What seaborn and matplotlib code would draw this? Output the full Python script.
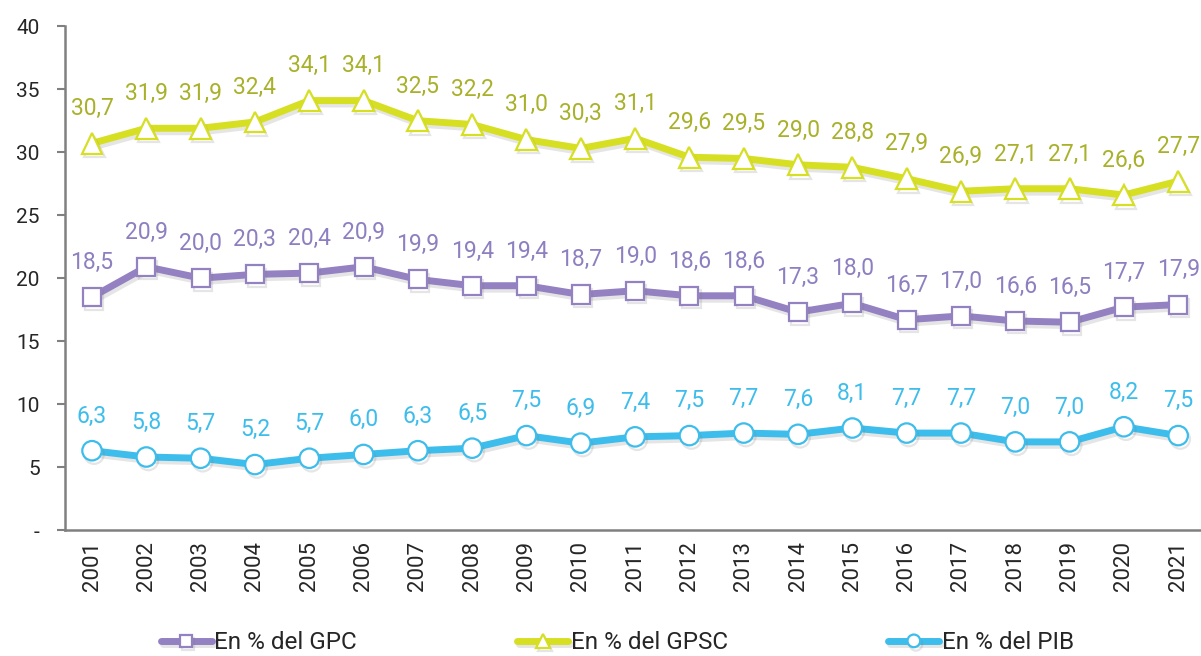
import matplotlib
matplotlib.use("Agg")
import matplotlib.pyplot as plt
import matplotlib.patheffects as pe
import pandas as pd
import seaborn as sns

years = list(range(2001, 2022))
gpc = [18.5, 20.9, 20.0, 20.3, 20.4, 20.9, 19.9, 19.4, 19.4, 18.7, 19.0,
       18.6, 18.6, 17.3, 18.0, 16.7, 17.0, 16.6, 16.5, 17.7, 17.9]
gpsc = [30.7, 31.9, 31.9, 32.4, 34.1, 34.1, 32.5, 32.2, 31.0, 30.3, 31.1,
        29.6, 29.5, 29.0, 28.8, 27.9, 26.9, 27.1, 27.1, 26.6, 27.7]
pib = [6.3, 5.8, 5.7, 5.2, 5.7, 6.0, 6.3, 6.5, 7.5, 6.9, 7.4,
       7.5, 7.7, 7.6, 8.1, 7.7, 7.7, 7.0, 7.0, 8.2, 7.5]
y_ticks = [0, 5, 10, 15, 20, 25, 30, 35, 40]
y_tick_labels = ["-", "5", "10", "15", "20", "25", "30", "35", "40"]

series = [
    ("En % del GPC", gpc, "#9381c2", "#8d7fc0", "s", 13),
    ("En % del GPSC", gpsc, "#d7df23", "#a9b12b", "^", 15),
    ("En % del PIB", pib, "#3dbdeb", "#3dbdeb", "o", 14),
]

sns.set_style("white")
plt.rcParams["font.family"] = ["Roboto", "DejaVu Sans"]

fig = plt.figure(figsize=(12.01, 6.56), dpi=100)
ax = fig.add_axes([0.054, 0.192, 0.946, 0.768])

# soft drop shadow like the original
shadow = [pe.SimpleLineShadow(offset=(1.5, -2.5), alpha=0.2, shadow_color="gray"),
          pe.Normal()]

for name, vals, color, txt_color, marker, msize in series:
    df = pd.DataFrame({"x": range(len(years)), "y": vals})
    sns.lineplot(data=df, x="x", y="y", ax=ax, color=color, linewidth=5,
                 marker=marker, markersize=msize, markerfacecolor="white",
                 markeredgecolor=color, markeredgewidth=1.6,
                 path_effects=shadow, label=name, legend=False)
    for i, v in enumerate(vals):
        ax.annotate(f"{v:.1f}".replace(".", ","), (i, v), xytext=(0, 25),
                    textcoords="offset points", ha="center", va="center",
                    fontsize=16.5, color=txt_color)

ax.set_xlim(-0.5, 20.42)
ax.set_ylim(0, 40)
ax.set_xticks(range(len(years)))
ax.set_xticklabels([str(y) for y in years], rotation=90, fontsize=16)
ax.set_yticks(y_ticks)
ax.set_yticklabels(y_tick_labels, fontsize=15)
ax.set_xlabel("")
ax.set_ylabel("")
ax.tick_params(axis="y", length=6, width=1.5, color="#808080", direction="out", left=True, pad=12)
ax.tick_params(axis="x", length=0, pad=8)
for side in ["top", "right"]:
    ax.spines[side].set_visible(False)
for side in ["left", "bottom"]:
    ax.spines[side].set_color("#808080")
    ax.spines[side].set_linewidth(1.8)

h, l = ax.get_legend_handles_labels()
fig.legend(h, l, loc="center", bbox_to_anchor=(0.514, 0.02), ncol=3,
           frameon=False, handlelength=2.1, handletextpad=0.1, markerscale=0.65,
           columnspacing=6.6, prop={"size": 17.5})

fig.savefig("out.png", dpi=100)
